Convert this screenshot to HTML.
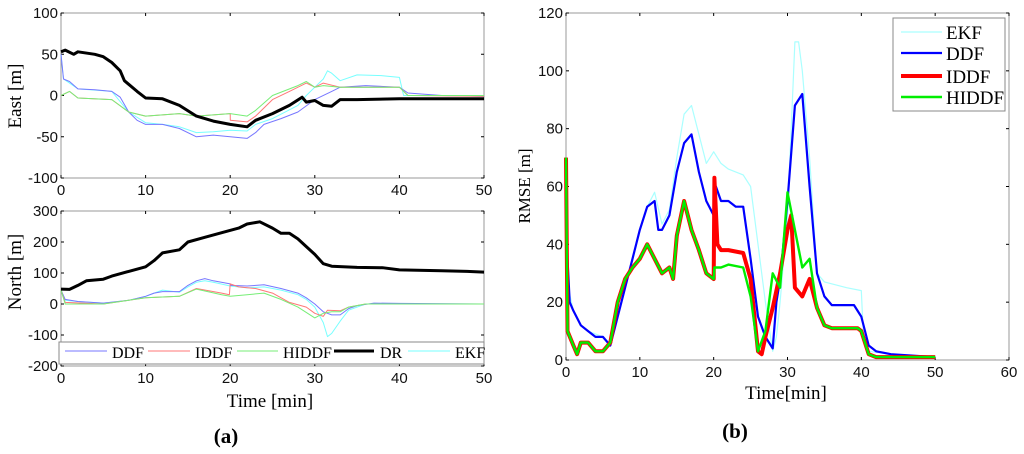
<!DOCTYPE html>
<html><head><meta charset="utf-8"><style>
body{margin:0;background:#fff;width:1024px;height:449px;overflow:hidden}
svg{font-family:"Liberation Sans",sans-serif}
.serif{font-family:"Liberation Serif",serif}
</style></head><body>
<svg id="fig" width="1024" height="449" xmlns="http://www.w3.org/2000/svg"></svg>
<script>
// ---- Panel (a) East data ----
const eastT_DR=[0,0.5,1.5,2,4,5,6,7,7.5,9,10,12,14,16,18,20,22,23,25,27,28.5,29,30,31,32,33,35,40,45,50];
const eastDR=[53,55,50,53,50,47,40,30,18,5,-3,-4,-12,-25,-31,-35,-38,-30,-22,-12,-2,-8,-6,-12,-13,-5,-5,-4,-4,-4];
const eastT_DDF=[0,0.3,1,2,4,6,7,8,9,10,12,14,16,18,20,22,23,24,26,28,30,32,33,36,40,41,45,50];
const eastDDF=[50,20,17,8,7,5,-2,-20,-30,-35,-35,-40,-50,-48,-50,-52,-45,-35,-28,-20,-5,5,10,12,10,3,0,-1];
const eastT_EKF=[0,0.3,1,2,6,8,10,12,14,16,18,20,22,23,25,28,29,30,31,31.5,32,33,35,38,40,40.5,45,50];
const eastEKF=[50,20,15,8,5,-20,-33,-35,-38,-45,-44,-42,-43,-35,-28,-12,0,10,20,30,27,18,25,24,22,0,0,-1];
const eastT_IDDF=[0,1,2,6,8,10,14,16,20,20.01,22,23,25,27,29,30,31,33,40,41,50];
const eastIDDF=[0,5,-3,-5,-20,-25,-22,-25,-22,-30,-32,-25,-5,5,15,10,15,10,10,0,-1];
const eastT_HIDDF=[0,1,2,6,8,10,14,16,20,22,23,25,28,29,30,31,33,40,41,50];
const eastHIDDF=[0,5,-3,-5,-20,-25,-22,-25,-22,-25,-18,0,12,17,10,12,10,10,0,0];
// ---- Panel (a) North data ----
const northT_DR=[0,1,2,3,5,6,8,10,11,12,14,15,17,19,21,22,23.5,25,26,27,28,29,30,31,32,35,38,40,45,48,50];
const northDR=[48,47,60,75,80,90,105,120,140,165,175,200,215,230,245,258,265,245,228,228,210,185,160,130,122,118,117,110,107,105,103];
const northT_DDF=[0,0.5,2,5,8,10,11,12,14,15,16,17,18,20,20.1,22,24,26,28,29,30,31,32,33,34,35,37,40,50];
const northDDF=[45,15,8,3,12,25,35,40,40,60,75,82,75,65,60,58,62,50,35,20,0,-25,-35,-35,-15,-5,3,2,0];
const northT_EKF=[0,0.5,2,5,8,10,11,12,14,15,16,17,18,20,22,24,26,28,29,30,31,31.5,32,33,34,36,50];
const northEKF=[45,12,8,3,12,25,35,45,38,55,70,75,70,58,52,55,45,30,15,-10,-60,-105,-95,-55,-20,0,0];
const northT_IDDF=[0,0.5,5,10,14,16,19,19.9,20,21,23,25,27,29,30,31,31.5,33,34,36,50];
const northIDDF=[45,5,0,20,25,50,35,30,65,55,50,35,5,-10,-30,-40,-20,-22,-10,0,0];
const northT_HIDDF=[0,0.5,5,10,14,16,19,20,22,24,26,28,30,31,32,33,34,36,50];
const northHIDDF=[45,0,0,20,25,48,30,25,30,35,15,-10,-45,-30,-25,-25,-10,0,0];
// ---- Panel (b) RMSE data ----
const rmseT_EKF=[0,0.3,1,2,3,5,6,7,8,9,10,11,12,13,14,15,16,17,18,19,20,21,22,24,25,26,27,28,28.5,29,30,31,31.5,32,33,34,35,38,40,40.3,41,44,50];
const rmseEKF=[70,25,17,12,10,8,5,15,25,35,45,53,58,47,52,70,85,88,78,68,72,68,66,64,60,40,20,3,8,20,50,110,110,100,70,30,27,25,24,8,3,2,1];
const rmseT_DDF=[0,0.2,0.5,1,2,3,4,5,6,7,8,9,10,11,12,12.5,13,14,15,16,17,18,19,20,20.3,21,22,23,24,25,26,27,28,28.5,29,30,31,32,33,34,35,36,39,40,41,42,44,50];
const rmseDDF=[70,35,20,17,12,10,8,8,5,15,25,35,45,53,55,45,45,50,65,75,78,65,55,50,60,55,55,53,53,35,15,8,4,20,28,55,88,92,60,30,22,19,19,15,5,3,2,1];
const rmseT_IDDF=[0,0.2,1,1.5,2,3,4,5,6,7,8,9,10,11,12,13,14,14.5,15,16,17,18,19,20,20.1,20.5,21,22,24,25,26,26.5,27,28,29,30,30.5,31,32,33,34,35,36,39.5,40,41,42,50];
const rmseIDDF=[70,10,5,2,6,6,3,3,6,20,28,32,35,40,35,30,32,28,43,55,45,38,30,28,63,40,38,38,37,28,3,2,8,18,30,45,50,25,22,28,18,12,11,11,10,2,1,1];
const rmseT_HIDDF=[0,0.2,1,1.5,2,3,4,5,6,7,8,9,10,11,12,13,14,14.5,15,16,17,18,19,20,20.1,21,22,24,25,26,27,28,29,30,31,32,33,34,35,36,39.5,40,41,42,50];
const rmseHIDDF=[70,10,5,2,6,6,3,3,6,20,28,32,35,40,35,30,32,28,43,55,45,38,30,28,32,32,33,32,22,3,10,30,25,58,45,32,35,18,12,11,11,10,2,1,1];

const NS='http://www.w3.org/2000/svg';
const svg=document.getElementById('fig');
function mk(tag,attrs,parent){const e=document.createElementNS(NS,tag);for(const k in attrs)e.setAttribute(k,attrs[k]);(parent||svg).appendChild(e);return e;}
function txt(x,y,s,attrs){const e=mk('text',Object.assign({x:x,y:y},attrs||{}));e.textContent=s;return e;}
function axes(x0,x1,xmin,xmax,y0,y1,ymin,ymax){return{sx:v=>x0+(v-xmin)/(xmax-xmin)*(x1-x0),sy:v=>y1-(v-ymin)/(ymax-ymin)*(y1-y0)};}
function frame(L,T,R,B,xt,yt,ax,name){
  const g=mk('g',{});
  
  
  mk('rect',{x:L,y:T,width:R-L,height:B-T,fill:'none',stroke:'#999','stroke-width':1},g);
  xt.forEach(v=>{const x=ax.sx(v);mk('line',{x1:x,x2:x,y1:B,y2:B-3,stroke:'#000'},g);mk('line',{x1:x,x2:x,y1:T,y2:T+3,stroke:'#000'},g);
    const t=txt(x,B+17,String(v),{'text-anchor':'middle','font-size':15,fill:'#111'});g.appendChild(t);});
  yt.forEach(v=>{const y=ax.sy(v);mk('line',{x1:L,x2:L+3,y1:y,y2:y,stroke:'#000'},g);mk('line',{x1:R,x2:R-3,y1:y,y2:y,stroke:'#000'},g);
    const t=txt(L-3,y+5,String(v),{'text-anchor':'end','font-size':15,fill:'#111'});g.appendChild(t);});
  return g;
}
function series(ax,ts,vs,color,w,name){
  const pts=ts.map((t,i)=>ax.sx(t).toFixed(1)+','+ax.sy(vs[i]).toFixed(1)).join(' ');
  const p=mk('polyline',{points:pts,fill:'none',stroke:color,'stroke-width':w,'stroke-linejoin':'round'});
  
  
  return p;
}
// Panel a top
const aE=axes(61,484,0,50,13,178,-100,100);
frame(61,13,484,178,[0,10,20,30,40,50],[100,50,0,-50,-100],aE,'east-axes');
series(aE,eastT_EKF,eastEKF,'#7ff',1,'east-ekf-line');
series(aE,eastT_DDF,eastDDF,'#77f',1,'east-ddf-line');
series(aE,eastT_IDDF,eastIDDF,'#f77',1,'east-iddf-line');
series(aE,eastT_HIDDF,eastHIDDF,'#7e7',1,'east-hiddf-line');
series(aE,eastT_DR,eastDR,'#000',3,'east-dr-line');
let t=txt(21,96,'East [m]',{'text-anchor':'middle','font-size':19,transform:'rotate(-90 21 96)',class:'serif'});

// Panel a bottom
const aN=axes(61,484,0,50,211,366,-200,300);
frame(61,211,484,366,[0,10,20,30,40,50],[300,200,100,0,-100,-200],aN,'north-axes');
series(aN,northT_EKF,northEKF,'#7ff',1,'north-ekf-line');
series(aN,northT_DDF,northDDF,'#77f',1,'north-ddf-line');
series(aN,northT_IDDF,northIDDF,'#f77',1,'north-iddf-line');
series(aN,northT_HIDDF,northHIDDF,'#7e7',1,'north-hiddf-line');
series(aN,northT_DR,northDR,'#000',3,'north-dr-line');
t=txt(21,272,'North [m]',{'text-anchor':'middle','font-size':19,transform:'rotate(-90 21 272)',class:'serif'});

// legend a
const lg=mk('g',{});

mk('rect',{x:59,y:342,width:425,height:22,fill:'#fff',stroke:'#888'},lg);
[['DDF','#77f',1,65,107,112],['IDDF','#f77',1,148,190,195],['HIDDF','#7e7',1,237,278,283],['DR','#000',3,334,374,380],['EKF','#7ff',1,408,450,455]].forEach(e=>{
  mk('line',{x1:e[3],x2:e[4],y1:351,y2:351,stroke:e[1],'stroke-width':e[2]},lg);
  const tt=txt(e[5],358,e[0],{'font-size':16,class:'serif'});lg.appendChild(tt);
});
t=txt(270,407,'Time [min]',{'text-anchor':'middle','font-size':19,class:'serif'});

t=txt(226,443,'(a)',{'text-anchor':'middle','font-size':21,'font-weight':'bold',class:'serif'});

// Panel b
const bR=axes(566,1009,0,60,13,360,0,120);
frame(566,13,1009,360,[0,10,20,30,40,50,60],[120,100,80,60,40,20,0],bR,'rmse-axes');
series(bR,rmseT_EKF,rmseEKF,'#aff',1.2,'rmse-ekf-line');
series(bR,rmseT_DDF,rmseDDF,'#00f',2.2,'rmse-ddf-line');
series(bR,rmseT_IDDF,rmseIDDF,'#f00',4,'rmse-iddf-line');
series(bR,rmseT_HIDDF,rmseHIDDF,'#0e0',2.4,'rmse-hiddf-line');
t=txt(530,186,'RMSE [m]',{'text-anchor':'middle','font-size':17,transform:'rotate(-90 530 186)',class:'serif'});

t=txt(786,399,'Time[min]',{'text-anchor':'middle','font-size':19,class:'serif'});

t=txt(735,438,'(b)',{'text-anchor':'middle','font-size':21,'font-weight':'bold',class:'serif'});

const lb=mk('g',{});

mk('rect',{x:893,y:18,width:112,height:93,fill:'#fff',stroke:'#888'},lb);
[['EKF','#aff',1.2,32],['DDF','#00f',2.2,53],['IDDF','#f00',4,76],['HIDDF','#0e0',2.4,97]].forEach(e=>{
  mk('line',{x1:901,x2:942,y1:e[3],y2:e[3],stroke:e[1],'stroke-width':e[2]},lb);
  const tt=txt(946,e[3]+7,e[0],{'font-size':19,class:'serif'});lb.appendChild(tt);
});
</script>
</body></html>
